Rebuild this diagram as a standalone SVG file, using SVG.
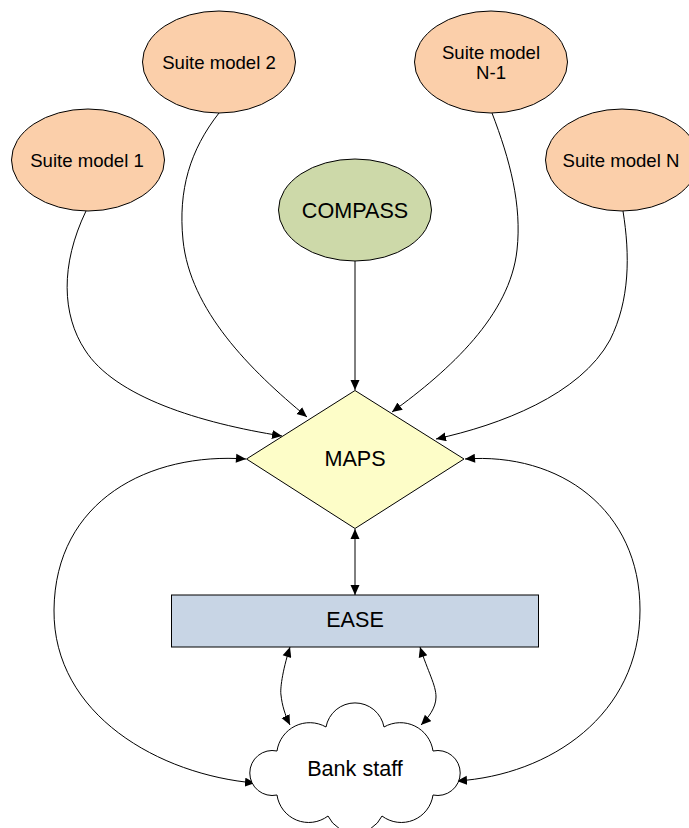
<svg xmlns="http://www.w3.org/2000/svg" width="689" height="828" viewBox="0 0 689 828">
<style>
.s{stroke:#000;stroke-width:1}
.c{fill:none;stroke:#000;stroke-width:1}
.suite{fill:#fbcfaa}
text{font-family:"Liberation Sans",Arial,sans-serif;fill:#000;text-anchor:middle}
.t1{font-size:18.600px}
.t2{font-size:21.600px}
</style>
<defs>
<marker id="e" markerUnits="userSpaceOnUse" markerWidth="12" markerHeight="10" refX="10" refY="4.5" orient="auto"><path d="M0 0L10 4.5L0 9Z" fill="#000"/></marker>
<marker id="b" markerUnits="userSpaceOnUse" markerWidth="12" markerHeight="10" refX="0" refY="4.5" orient="auto"><path d="M10 0L0 4.5L10 9Z" fill="#000"/></marker>
</defs>
<rect width="689" height="828" fill="#fff"/>
<g id="connectors">
<path class="c" marker-end="url(#e)" d="M86 211C60 265 62 315 85 350C115 397 200 423 282 436"/>
<path class="c" marker-end="url(#e)" d="M219 113C190 150 178 190 183 240C190 310 250 370 307 417"/>
<path class="c" marker-end="url(#e)" d="M355 261L355 390"/>
<path class="c" marker-end="url(#e)" d="M492 113C510 160 522 205 517 250C510 315 450 370 392 412"/>
<path class="c" marker-end="url(#e)" d="M623 211C630 255 630 300 610 340C580 395 500 425 436 439"/>
<path class="c" marker-start="url(#b)" marker-end="url(#e)" d="M246 459C150 452 55 500 54 610C53 715 160 775 255 783"/>
<path class="c" marker-start="url(#b)" marker-end="url(#e)" d="M465 459C560 452 640 510 640 610C640 715 550 775 457 781"/>
<path class="c" marker-start="url(#b)" marker-end="url(#e)" d="M355 529L355 595"/>
<path class="c" marker-start="url(#b)" marker-end="url(#e)" d="M290 647C282 672 280 690 281 695C282 705 285 715 290 725"/>
<path class="c" marker-start="url(#b)" marker-end="url(#e)" d="M420 647C428 672 436 685 436 697C436 708 428 718 421 725"/>
</g>
<g id="suite1"><ellipse class="s suite" cx="88" cy="160" rx="76.500" ry="51"/><text class="t1" x="87" y="167">Suite model 1</text></g>
<g id="suite2"><ellipse class="s suite" cx="219" cy="62" rx="76.500" ry="51"/><text class="t1" x="219" y="69">Suite model 2</text></g>
<g id="suiteN1"><ellipse class="s suite" cx="491" cy="62" rx="76.500" ry="51"/><text class="t1" x="491" y="59">Suite model</text><text class="t1" x="491" y="79">N-1</text></g>
<g id="suiteN"><ellipse class="s suite" cx="622" cy="160" rx="76.500" ry="51"/><text class="t1" x="621" y="167">Suite model N</text></g>
<g id="compass"><ellipse class="s" cx="355" cy="210" rx="76.500" ry="51" fill="#cdd9a9"/><text class="t2" x="355" y="218">COMPASS</text></g>
<g id="maps"><path class="s" d="M355 390.500L464 459L355 528.500L246.500 459Z" fill="#fdfdc8"/><text class="t2" x="355" y="466">MAPS</text></g>
<g id="ease"><rect class="s" x="171.500" y="595" width="367" height="52" fill="#c8d5e5"/><text class="t2" x="355" y="627">EASE</text></g>
<g id="bank-staff"><path class="s" fill="#fff" d="M277 751A33 33 0 0 1 326 727A29.500 29.500 0 0 1 384 727A33 33 0 0 1 433 751A22.500 22.500 0 1 1 433 795A32 32 0 0 1 382 816A30 30 0 0 1 328 816A32 32 0 0 1 277 795A22.500 22.500 0 1 1 277 751Z"/><text class="t2" x="355" y="776">Bank staff</text></g>
</svg>
